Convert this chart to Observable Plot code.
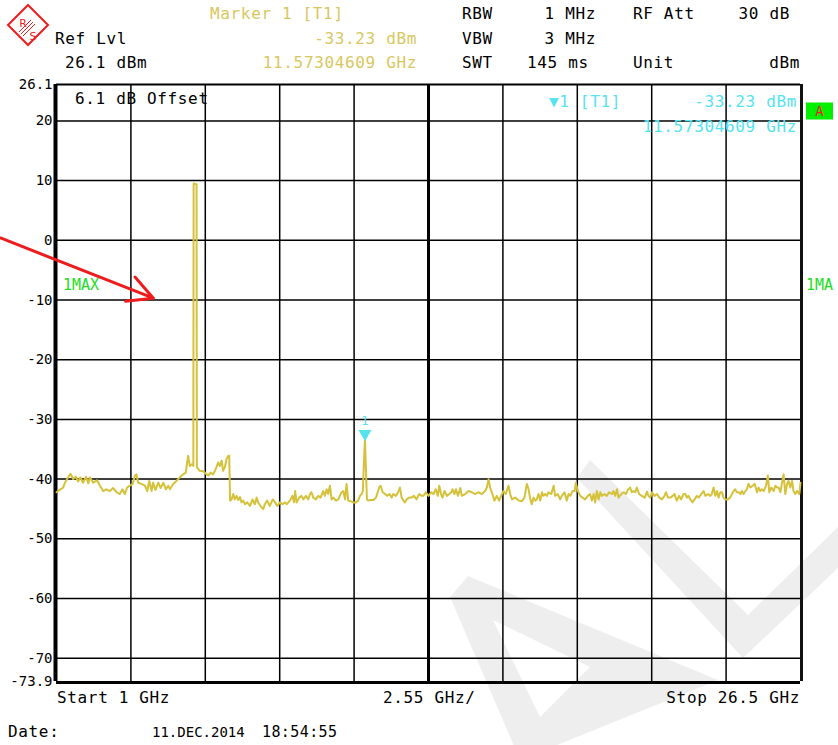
<!DOCTYPE html>
<html><head><meta charset="utf-8">
<script src="https://cdn.jsdelivr.net/npm/d3@7"></script>
<script src="https://cdn.jsdelivr.net/npm/@observablehq/plot@0.6"></script>
<style>
html,body{margin:0;padding:0;background:#fff;}
#page{position:relative;width:838px;height:745px;overflow:hidden;font-family:"DejaVu Sans Mono",monospace;}
#wm{position:absolute;left:0;top:0;z-index:0;}
#chart{position:absolute;left:0;top:0;z-index:1;}
.t{position:absolute;z-index:2;font-size:16px;letter-spacing:0.65px;line-height:18px;white-space:pre;transform:translateY(-50%);color:#000;}
</style></head>
<body><div id="page"><div id="chart"></div></div>
<script>
// ---------- data ----------
const startGHz = 1, stopGHz = 26.5, centerGHz = 13.75;
const refLevelDbm = 26.1, bottomDbm = -73.9;
const xGrid = [3.55, 6.1, 8.65, 11.2, 16.3, 18.85, 21.4, 23.95];
const yGrid = [20, 10, 0, -10, -20, -30, -40, -50, -60, -70];
const yTicks = [26.1, 20, 10, 0, -10, -20, -30, -40, -50, -60, -70, -73.9];
const yTickLabels = ["26.1", "20", "10", "0", "-10", "-20", "-30", "-40", "-50", "-60", "-70", "-73.9"];

const traceGHz = [
1.00,1.11,1.23,1.29,1.40,1.48,1.57,1.66,1.74,1.82,1.91,2.01,2.09,2.14,2.26,2.39,2.49,2.60,2.71,2.83,
2.94,3.06,3.17,3.26,3.34,3.42,3.51,3.61,3.69,3.74,3.80,3.91,4.03,4.11,4.18,4.26,4.31,4.39,4.49,4.57,
4.66,4.75,4.83,4.89,5.00,5.11,5.23,5.34,5.43,5.51,5.57,5.64,5.69,5.70,5.80,5.81,5.91,6.03,6.12,6.20,
6.28,6.37,6.46,6.54,6.60,6.66,6.71,6.77,6.83,6.89,6.92,6.95,7.00,7.06,7.11,7.17,7.23,7.29,7.34,7.40,
7.46,7.54,7.63,7.72,7.80,7.86,7.91,7.99,8.09,8.14,8.22,8.31,8.41,8.49,8.57,8.66,8.75,8.83,8.89,9.00,
9.09,9.14,9.18,9.23,9.32,9.40,9.46,9.55,9.63,9.69,9.74,9.80,9.89,9.97,10.05,10.14,10.20,10.26,10.31,10.37,
10.43,10.49,10.58,10.66,10.71,10.77,10.83,10.89,10.94,11.00,11.08,11.17,11.26,11.34,11.40,11.46,11.50,11.53,11.573,11.60,
11.64,11.69,11.77,11.86,11.95,11.99,12.06,12.11,12.18,12.26,12.34,12.41,12.49,12.54,12.63,12.71,12.77,12.83,12.89,12.94,
13.00,13.09,13.17,13.25,13.34,13.43,13.51,13.57,13.66,
13.75,13.84,13.92,14.00,14.07,14.12,14.18,14.23,14.30,14.38,14.46,14.53,14.57,14.64,14.69,14.76,14.84,14.89,15.01,15.12,
15.24,15.35,15.46,15.58,15.69,15.75,15.81,15.86,15.94,16.01,16.09,16.17,16.24,16.32,16.40,16.49,16.55,16.61,16.72,16.84,
16.95,17.04,17.12,17.18,17.24,17.29,17.35,17.41,17.46,17.52,17.58,17.64,17.69,17.75,17.81,17.86,17.96,18.04,18.09,18.18,
18.26,18.32,18.41,18.49,18.55,18.61,18.69,18.76,18.80,18.87,18.95,19.03,19.12,19.21,19.29,19.35,19.41,19.46,19.52,19.58,
19.64,19.69,19.78,19.86,19.94,20.04,20.09,20.15,20.21,20.26,20.36,20.44,20.52,20.58,20.66,20.72,20.78,20.84,20.89,20.97,
21.06,21.16,21.24,21.29,21.35,21.41,21.50,21.58,21.66,21.75,21.84,21.89,21.96,22.04,22.12,22.18,22.26,22.34,22.41,22.49,
22.55,22.61,22.66,22.72,22.80,22.87,22.95,23.01,23.10,23.18,23.24,23.33,23.41,23.46,23.52,23.58,23.64,23.69,23.75,23.81,
23.86,23.92,24.01,24.09,24.15,24.21,24.26,24.32,24.38,24.44,24.49,24.55,24.61,24.66,24.72,24.78,24.86,24.93,25.01,25.06,
25.12,25.18,25.24,25.32,25.38,25.43,25.50,25.58,25.64,25.69,25.75,25.81,25.86,25.92,25.98,26.04,26.09,26.15,26.21,26.26,
26.32,26.38,26.46,26.50
];
const traceDbm = [
-42.2,-41.8,-41.4,-40.6,-39.7,-39.1,-40.0,-39.6,-40.4,-39.7,-40.6,-39.6,-40.7,-39.7,-40.6,-40.2,-41.1,-42.0,-41.7,-42.0,
-41.5,-42.2,-42.5,-41.7,-42.5,-41.4,-41.1,-40.8,-39.4,-39.2,-40.6,-40.8,-41.1,-42.0,-40.3,-42.0,-40.6,-41.8,-40.6,-41.5,
-40.6,-41.7,-41.1,-41.7,-40.8,-40.3,-39.7,-39.2,-38.9,-36.1,-37.8,-37.5,-37.8,9.5,9.4,-38.0,-38.6,-38.7,-39.1,-39.4,
-38.9,-39.2,-38.3,-37.2,-37.8,-36.9,-38.6,-38.0,-36.6,-36.1,-36.1,-43.6,-43.4,-42.5,-43.4,-42.8,-43.5,-43.0,-43.9,-43.6,
-44.2,-43.9,-44.5,-43.4,-44.2,-43.1,-43.9,-44.5,-45.0,-44.2,-43.6,-44.5,-43.4,-43.9,-44.5,-43.9,-44.2,-43.9,-44.2,-43.6,
-42.8,-43.9,-42.0,-43.9,-43.1,-42.8,-43.4,-42.8,-43.4,-42.5,-42.2,-43.1,-43.4,-42.8,-43.1,-42.0,-42.8,-41.7,-42.5,-41.1,
-43.4,-43.1,-43.6,-43.4,-42.8,-42.2,-42.0,-43.4,-40.8,-43.6,-43.7,-43.9,-43.9,-43.6,-42.8,-42.5,-42.0,-38.0,-33.23,-37.5,
-43.4,-43.6,-43.5,-43.5,-43.1,-42.5,-41.4,-41.1,-42.2,-42.5,-42.8,-42.5,-43.1,-42.5,-42.8,-42.2,-41.4,-43.1,-43.6,-43.9,
-43.4,-43.1,-43.1,-42.8,-43.4,-42.5,-42.8,-42.8,-42.2,
-42.8,-42.2,-42.5,-41.7,-42.8,-41.1,-42.5,-43.1,-42.0,-42.8,-42.5,-42.2,-41.7,-42.5,-41.7,-42.8,-41.5,-42.8,-42.5,-42.0,
-42.2,-42.5,-42.2,-42.5,-42.0,-41.4,-40.0,-41.4,-42.5,-43.6,-42.8,-43.6,-42.8,-42.0,-42.5,-41.1,-42.5,-43.4,-43.1,-43.6,
-43.7,-43.1,-40.8,-41.7,-43.4,-44.2,-43.1,-43.6,-43.4,-42.5,-43.6,-42.2,-42.8,-42.5,-42.8,-42.2,-42.5,-41.1,-42.8,-42.5,
-43.4,-42.8,-42.2,-43.6,-42.5,-42.8,-42.0,-42.0,-40.6,-42.0,-42.8,-43.1,-43.4,-42.8,-42.5,-43.6,-42.5,-43.9,-42.0,-43.4,
-42.2,-42.8,-42.5,-42.8,-42.2,-42.5,-42.0,-42.8,-41.7,-43.1,-42.5,-42.2,-42.5,-41.8,-41.4,-42.2,-42.0,-42.2,-41.4,-42.5,
-42.8,-43.1,-42.1,-42.8,-43.1,-42.2,-42.8,-42.5,-43.1,-43.4,-42.8,-42.2,-43.1,-43.1,-42.8,-42.5,-43.6,-42.8,-43.4,-42.5,
-42.5,-43.1,-42.8,-43.4,-43.9,-43.4,-42.8,-43.1,-42.5,-42.0,-42.8,-42.5,-42.8,-42.5,-41.4,-42.8,-42.0,-43.1,-42.2,-42.2,
-43.1,-43.4,-43.4,-43.1,-42.5,-42.0,-41.7,-42.2,-42.2,-42.5,-42.0,-42.5,-42.0,-41.7,-40.8,-41.4,-41.1,-40.8,-42.2,-41.4,
-42.0,-41.7,-42.0,-41.1,-39.4,-42.2,-41.4,-42.0,-41.1,-41.4,-41.4,-42.2,-40.8,-39.2,-42.5,-40.8,-40.3,-41.4,-40.3,-42.0,
-42.5,-42.0,-42.5,-40.6
];

const markerGHz = 11.57304609, markerDbm = -33.23;
const arrowNote = [{x1: -0.92, y1: 0.4, x2: 4.32, y2: -9.7}];

// header / footer texts
const headerLeft = ["Ref Lvl", "26.1 dBm"];
const markerTexts = ["Marker 1 [T1]", markerDbm.toFixed(2) + " dBm", markerGHz.toFixed(8) + " GHz"];
const settingNames = ["RBW", "VBW", "SWT"];
const settingValues = ["1 MHz", "3 MHz", "145 ms"];
const extraNames = ["RF Att", "Unit"];
const extraValues = ["30 dB", "dBm"];
const offsetText = "6.1 dB Offset";
const footer = ["Start 1 GHz", "2.55 GHz/", "Stop 26.5 GHz"];
const dateTexts = ["Date:", "11.DEC.2014", "18:54:55"];
const traceLabels = ["1MAX", "1MA"];

// ---------- colours ----------
const traceColor = "#d5c23a", textYellow = "#d8c760", cyan = "#55e3f0", green = "#22dd22", red = "#ee1c1c";

// ---------- watermark (decoration) ----------
const page = document.getElementById("page");
const NS = "http://www.w3.org/2000/svg";
const wm = document.createElementNS(NS, "svg");
wm.setAttribute("id", "wm"); wm.setAttribute("width", 838); wm.setAttribute("height", 745);
wm.innerHTML =
  '<path fill="#eeeeee" d="M590,460 L748,615 L838,527 L838,568 L743,658 L577,478 Z"/>' +
  '<path fill="#eeeeee" fill-rule="evenodd" d="M450,597 L468,576 L718,680 L520,760 Z M493,620 L590,667 L540,717 Z"/>';
page.appendChild(wm);

// R&S logo (decoration)
const logo = document.createElementNS(NS, "svg");
logo.setAttribute("width", 56); logo.setAttribute("height", 50);
logo.setAttribute("style", "position:absolute;left:0;top:0;z-index:2");
logo.innerHTML =
  '<polygon points="28,5 48,25 28,45 8,25" fill="none" stroke="' + red + '" stroke-width="2"/>' +
  '<text x="23" y="27" font-size="11" font-family="DejaVu Sans" fill="' + red + '" text-anchor="middle">R</text>' +
  '<text x="33" y="40" font-size="11" font-family="DejaVu Sans" fill="' + red + '" text-anchor="middle">S</text>' +
  '<g stroke="' + red + '" stroke-width="1"><line x1="19" y1="32" x2="31" y2="20"/><line x1="21" y1="34" x2="33" y2="22"/><line x1="23" y1="36" x2="35" y2="24"/></g>';
page.appendChild(logo);

// ---------- chart ----------
const rows = traceGHz.map((f, i) => ({f, dB: traceDbm[i]}));
const marker = [{f: markerGHz, dB: markerDbm}];

const chart = Plot.plot({
  width: 838, height: 745,
  marginLeft: 56, marginRight: 38, marginTop: 84, marginBottom: 64,
  style: {background: "transparent", fontFamily: "DejaVu Sans Mono", fontSize: "14px", color: "#000"},
  x: {domain: [startGHz, stopGHz], axis: null},
  y: {domain: [bottomDbm, refLevelDbm], ticks: yTicks, tickSize: 0, tickPadding: 4, label: null,
      tickFormat: d => yTickLabels[yTicks.indexOf(d)]},
  marks: [
    Plot.ruleX(xGrid, {stroke: "#000", strokeWidth: 1.5}),
    Plot.ruleY(yGrid, {stroke: "#000", strokeWidth: 1.5}),
    Plot.ruleX([centerGHz], {stroke: "#000", strokeWidth: 3}),
    Plot.ruleX([startGHz], {stroke: "#000", strokeWidth: 4, dx: -1}),
    Plot.ruleX([stopGHz], {stroke: "#111", strokeWidth: 3, dx: 1}),
    Plot.ruleY([refLevelDbm], {stroke: "#000", strokeWidth: 2}),
    Plot.ruleY([bottomDbm], {stroke: "#000", strokeWidth: 3, dy: 1}),
    Plot.line(rows, {x: "f", y: "dB", stroke: traceColor, strokeWidth: 2, strokeLinejoin: "round"}),
    Plot.dot(marker, {x: "f", y: "dB", symbol: "triangle", rotate: 180, r: 4.8, fill: cyan, stroke: "none", dy: -5}),
    Plot.text(marker, {x: "f", y: "dB", text: () => "1", fill: cyan, dy: -18, fontSize: 12}),
    Plot.arrow(arrowNote, {x1: "x1", y1: "y1", x2: "x2", y2: "y2", stroke: red, strokeWidth: 3, headLength: 14, headAngle: 55})
  ]
});
document.getElementById("chart").appendChild(chart);

// ---------- HTML text overlays ----------
function place(str, x, y, opts = {}) {
  const d = document.createElement("div");
  d.className = "t";
  d.textContent = str;
  if (opts.align === "right") d.style.right = (838 - x) + "px"; else d.style.left = x + "px";
  d.style.top = y + "px";
  if (opts.color) d.style.color = opts.color;
  if (opts.size) d.style.fontSize = opts.size + "px";
  if (opts.spacing !== undefined) d.style.letterSpacing = opts.spacing + "px";
  page.appendChild(d);
  return d;
}
place(headerLeft[0], 55, 39);
place(headerLeft[1], 65, 63);
place(markerTexts[0], 210, 14, {color: textYellow});
place(markerTexts[1], 417, 39, {align: "right", color: textYellow});
place(markerTexts[2], 417, 63, {align: "right", color: textYellow});
[14, 39, 63].forEach((y, i) => {
  place(settingNames[i], 462, y);
  if (i < 2) place(settingValues[i], 596, y, {align: "right"});
  else place(settingValues[i], 527, y);
});
place(extraNames[0], 633, 14);
place(extraValues[0], 790, 14, {align: "right"});
place(extraNames[1], 633, 63);
place(extraValues[1], 800, 63, {align: "right"});

place(offsetText, 75, 99);
place("\u25BC1 [T1]", 549, 102, {color: cyan});
place(markerTexts[1], 797, 102, {align: "right", color: cyan});
place(markerTexts[2], 797, 127, {align: "right", color: cyan});
const abox = place("A", 806, 111, {color: red, size: 14, spacing: 0});
abox.style.background = "#00f000";
abox.style.width = "27px"; abox.style.textAlign = "center"; abox.style.lineHeight = "17px";

place(traceLabels[0], 63, 285, {color: green, size: 15, spacing: 0});
place(traceLabels[1], 806, 285, {color: green, size: 15, spacing: 0});

place(footer[0], 57, 698);
place(footer[1], 383, 698);
place(footer[2], 800, 698, {align: "right"});
place(dateTexts[0], 8, 732);
place(dateTexts[1], 152, 732, {size: 14, spacing: 0});
place(dateTexts[2], 262, 732, {size: 15, spacing: 0.4});
</script>
</body></html>
